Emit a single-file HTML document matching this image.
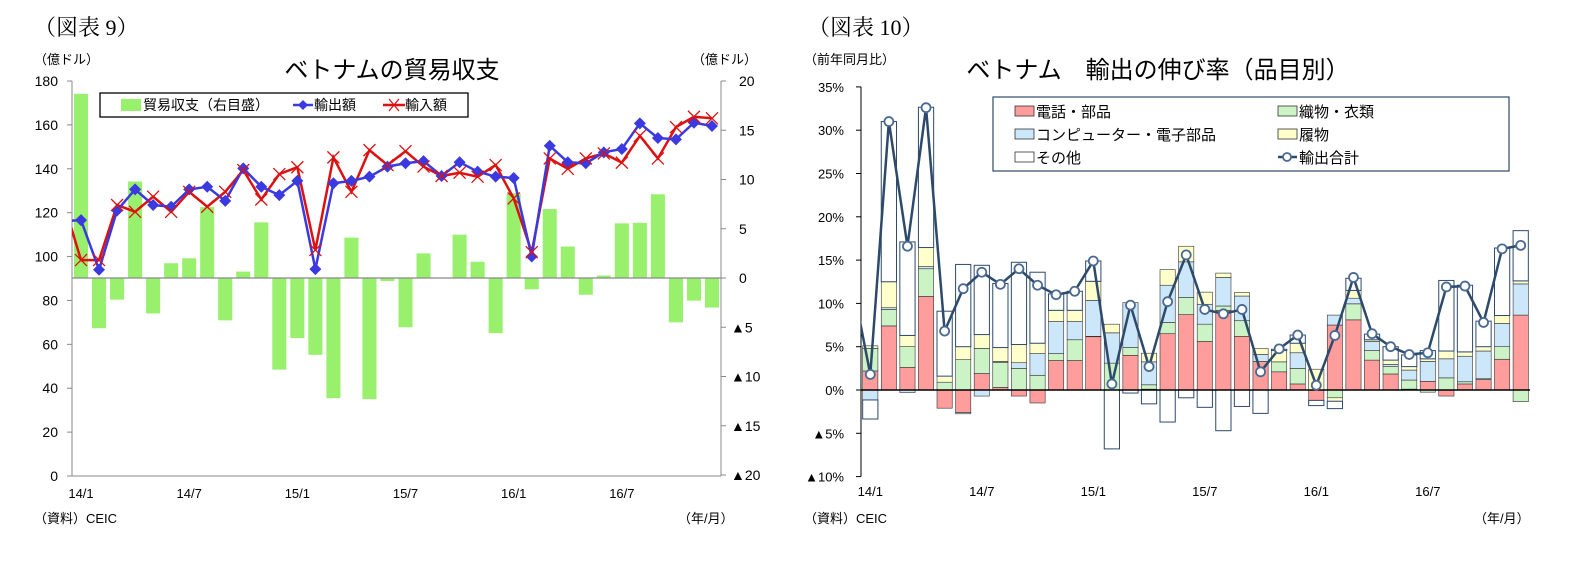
<!DOCTYPE html>
<html><head><meta charset="utf-8">
<style>
body{margin:0;background:#fff;}
svg{display:block;font-family:"Liberation Sans","Noto Sans CJK JP",sans-serif;}
.serif{font-family:"Liberation Serif","Noto Serif CJK SC",serif;}
</style></head>
<body>
<svg id="s" width="1580" height="569" viewBox="0 0 1580 569">
<defs>
<clipPath id="clipL"><rect x="72" y="60" width="649" height="430"/></clipPath>
<clipPath id="clipR"><rect x="861" y="60" width="669" height="430"/></clipPath>
</defs>
<text class="serif" x="34" y="35" font-size="22">（図表 9）</text>
<text class="serif" x="808" y="35" font-size="22">（図表 10）</text>
<text x="392" y="78" font-size="24" text-anchor="middle">ベトナムの貿易収支</text>
<text x="1158" y="78" font-size="24" text-anchor="middle">ベトナム　輸出の伸び率（品目別）</text>
<text x="34" y="64" font-size="13">（億ドル）</text>
<text x="692" y="64" font-size="13">（億ドル）</text>
<text x="804" y="64" font-size="13">（前年同月比）</text>
<text x="34" y="523" font-size="13">（資料）CEIC</text>
<text x="678" y="523" font-size="13">（年/月）</text>
<text x="804" y="523" font-size="13">（資料）CEIC</text>
<text x="1474" y="523" font-size="13">（年/月）</text>
<g id="L"></g>
<g id="R"></g>
</svg>
<script>
const NS='http://www.w3.org/2000/svg';
const months=['14/1','14/2','14/3','14/4','14/5','14/6','14/7','14/8','14/9','14/10','14/11','14/12','15/1','15/2','15/3','15/4','15/5','15/6','15/7','15/8','15/9','15/10','15/11','15/12','16/1','16/2','16/3','16/4','16/5','16/6','16/7','16/8','16/9','16/10','16/11','16/12'];
const xTickLabels=['14/1','14/7','15/1','15/7','16/1','16/7'];
const exportsV=[116.6,94,121,130.6,123.5,122.7,130.6,131.8,125.4,140.2,131.8,128,134.5,94.3,133.4,134.5,136.4,141,142.5,143.5,136.7,143,138.7,136.4,135.8,100,150.5,143,142.5,147.5,149,160.7,154,153.4,161,159.5];
const importsV=[98.4,98.4,123.5,120.4,127.3,120.4,129.5,122.7,129.5,139.4,126,137.6,140.7,103,145.2,129.5,148.5,141.7,148,141,136.7,138.2,136.4,141.7,126.5,102,144.7,140,144.7,147,142.8,155,144.7,159,163.7,163];
const balanceV=[18.7,-5.1,-2.2,9.8,-3.6,1.5,2.0,7.2,-4.3,0.65,5.65,-9.3,-6.1,-7.8,-12.2,4.1,-12.3,-0.3,-5.0,2.5,0.05,4.4,1.65,-5.6,8.6,-1.15,7.0,3.2,-1.7,0.25,5.55,5.6,8.5,-4.5,-2.3,-3.0];
const prevExport=116.2, prevImport=125.6;
const leftTicks=[0,20,40,60,80,100,120,140,160,180];
const rightTicks=[-20,-15,-10,-5,0,5,10,15,20];
// right chart
const phoneV=[2.2,7.4,2.6,10.8,-2.1,-2.6,1.9,0.3,-0.7,-1.5,3.4,3.4,6.15,0,4.0,0.1,6.5,8.7,5.6,9.2,6.2,3.3,2.1,0.7,-1.2,7.5,8.1,3.45,1.85,0.1,1.0,-0.7,0.7,1.2,3.55,8.65];
const textileV=[2.6,1.9,2.4,3.2,0.9,3.5,2.9,2.9,2.5,1.7,0.8,2.4,0.05,3.1,0.9,0.5,1.3,2.0,2.0,0.5,1.8,0,1.15,1.8,0,-0.9,1.85,1.1,0.85,1.05,-0.25,1.4,0.25,0.1,1.45,-1.35];
const computerV=[-1.15,0.2,-0.3,0.25,0,-0.15,-0.7,0.1,0.65,2.5,3.7,2.1,4.15,3.5,5.2,2.65,4.3,4.1,2.3,3.3,2.85,0.8,0,1.8,0,1.15,0.65,1.05,0.25,1.15,2.3,2.2,2.95,3.2,2.7,3.6];
const shoesV=[0.3,3.0,1.3,2.2,0.7,1.5,1.6,1.6,2.1,1.2,1.3,1.3,2.2,1.0,0,1.0,1.8,1.8,1.4,0.5,0.4,0.7,1.3,1.1,2.4,-0.4,0.9,0.2,0.5,0.4,0.3,0.9,0.5,0.5,0.9,0.35];
const otherV=[-2.2,18.5,10.8,16.2,7.5,9.5,8.0,7.4,9.5,8.2,1.9,2.2,2.35,-6.8,-0.35,-1.6,-3.7,-0.9,-2.0,-4.7,-1.9,-2.7,0.15,0.95,-0.6,-0.85,1.4,0.65,1.55,1.35,0.95,8.15,7.7,2.95,7.8,5.8];
const totalV=[1.8,31,16.6,32.6,6.8,11.7,13.6,12.2,14,12.1,11,11.4,14.9,0.7,9.8,2.7,10.2,15.6,9.3,8.8,9.3,2.1,4.75,6.35,0.55,6.3,13,6.5,5.0,4.1,4.3,11.9,12.0,7.8,16.3,16.7];
const prevTotal=12.8;
const pctTicks=[-10,-5,0,5,10,15,20,25,30,35];

function mk(tag,attrs,parent,txt){const e=document.createElementNS(NS,tag);for(const k in attrs)e.setAttribute(k,attrs[k]);if(txt!==undefined)e.textContent=txt;parent.appendChild(e);return e;}

// ---- Left chart
const L=document.getElementById('L');
const lx0=72,lx1=721,ly0=476,ly1=81;
const bw=(lx1-lx0)/months.length;
const xL=i=>lx0+(i+0.5)*bw;
const yL=v=>ly0-(v/180)*(ly0-ly1);
const yR=v=>278-(v/20)*(278-ly1);
balanceV.forEach((v,i)=>{
  const r=mk('rect',{x:xL(i)-bw*0.39,y:Math.min(yR(v),yR(0)),width:bw*0.78,height:Math.abs(yR(v)-yR(0)),fill:'#98f06c'},L);
  
  
});
mk('line',{x1:lx0,y1:278,x2:lx1,y2:278,stroke:'#888','stroke-width':1.2},L);
mk('line',{x1:lx0,y1:ly1,x2:lx0,y2:ly0,stroke:'#888'},L);
mk('line',{x1:lx0,y1:ly0,x2:lx1,y2:ly0,stroke:'#888'},L);
mk('line',{x1:lx1,y1:ly1,x2:lx1,y2:ly0,stroke:'#888'},L);
leftTicks.forEach(t=>{mk('line',{x1:lx0-5,y1:yL(t),x2:lx0,y2:yL(t),stroke:'#888'},L);
  const e=mk('text',{x:lx0-14,y:yL(t)+5,'font-size':14,'text-anchor':'end'},L,String(t));
  });
rightTicks.forEach(t=>{mk('line',{x1:lx1,y1:yR(t),x2:lx1+5,y2:yR(t),stroke:'#888'},L);
  const e=mk('text',{x:t<0?lx1+10:lx1+18,y:yR(t)+5,'font-size':14},L,t<0?'▲'+(-t):String(t));
  });
xTickLabels.forEach(lb=>{const i=months.indexOf(lb);
  const e=mk('text',{x:xL(i),y:498,'font-size':13,'text-anchor':'middle'},L,lb);
  });
function linePts(vals,prev,xf,yf){let p=[[xf(-1),yf(prev)]];vals.forEach((v,i)=>p.push([xf(i),yf(v)]));return p.map(q=>q.join(',')).join(' ');}
const gl=mk('g',{'clip-path':'url(#clipL)'},L);
const impLine=mk('polyline',{points:linePts(importsV,prevImport,xL,yL),fill:'none',stroke:'#dd1111','stroke-width':2.5},gl);

const expLine=mk('polyline',{points:linePts(exportsV,prevExport,xL,yL),fill:'none',stroke:'#3a3ae0','stroke-width':2.5},gl);

exportsV.forEach((v,i)=>{const x=xL(i),y=yL(v);
  const d=mk('polygon',{points:`${x},${y-6} ${x+6},${y} ${x},${y+6} ${x-6},${y}`,fill:'#3a3ae0'},L);
  });
importsV.forEach((v,i)=>{const x=xL(i),y=yL(v);
  const p=mk('path',{d:`M${x-6},${y-6}L${x+6},${y+6}M${x+6},${y-6}L${x-6},${y+6}`,stroke:'#dd1111','stroke-width':1.3},L);
  });
// left legend
const lg=mk('g',{},L);
mk('rect',{x:100,y:93,width:368,height:24,fill:'#fff',stroke:'#000','stroke-width':1.3},lg);
mk('rect',{x:121,y:99,width:20,height:12,fill:'#98f06c'},lg);
mk('text',{x:143,y:110,'font-size':14},lg,'貿易収支（右目盛）');
mk('line',{x1:293,y1:105,x2:313,y2:105,stroke:'#3a3ae0','stroke-width':2.5},lg);
mk('polygon',{points:'303,100 308,105 303,110 298,105',fill:'#3a3ae0'},lg);
mk('text',{x:314,y:110,'font-size':14},lg,'輸出額');
mk('line',{x1:383,y1:105,x2:405,y2:105,stroke:'#dd1111','stroke-width':2.5},lg);
mk('path',{d:'M389,99L399,111M399,99L389,111',stroke:'#dd1111','stroke-width':1.3},lg);
mk('text',{x:405,y:110,'font-size':14},lg,'輸入額');

// ---- Right chart
const R=document.getElementById('R');
const rx0=861,rx1=1530;
const rw=(rx1-rx0)/months.length;
const xR=i=>rx0+(i+0.5)*rw;
const yP=v=>390-(v/5)*43.3;
const series=[['phone',phoneV,'#ff9c9c'],['textile',textileV,'#ccf3c6'],['computer',computerV,'#cce6fa'],['shoes',shoesV,'#ffffcc'],['other',otherV,'#ffffff']];
months.forEach((m,i)=>{let pos=0,neg=0;
  series.forEach(([nm,arr,col])=>{const v=arr[i];if(!v)return;let a,b;
    if(v>0){a=pos;b=pos+v;pos=b;}else{a=neg;b=neg+v;neg=b;}
    const r=mk('rect',{x:xR(i)-rw*0.41,y:Math.min(yP(a),yP(b)),width:rw*0.82,height:Math.abs(yP(a)-yP(b)),fill:col,stroke:nm==='other'?'#2d4a6b':'#333','stroke-width':nm==='other'?1:0.6},R);
    });
});
mk('line',{x1:rx0,y1:yP(0),x2:rx1,y2:yP(0),stroke:'#000','stroke-width':1.5},R);
mk('line',{x1:rx0,y1:yP(35),x2:rx0,y2:yP(-10),stroke:'#000'},R);
pctTicks.forEach(t=>{mk('line',{x1:rx0-5,y1:yP(t),x2:rx0,y2:yP(t),stroke:'#000'},R);
  const e=mk('text',{x:rx0-17,y:yP(t)+5,'font-size':13,'text-anchor':'end'},R,t<0?'▲'+(-t)+'%':t+'%');
  });
xTickLabels.forEach(lb=>{const i=months.indexOf(lb);
  const e=mk('text',{x:xR(i),y:496,'font-size':13,'text-anchor':'middle'},R,lb);
  });
const gr=mk('g',{'clip-path':'url(#clipR)'},R);
const tl=mk('polyline',{points:linePts(totalV,prevTotal,xR,yP),fill:'none',stroke:'#2d4a6b','stroke-width':2.5},gr);

totalV.forEach((v,i)=>{const c=mk('circle',{cx:xR(i),cy:yP(v),r:4.5,fill:'#fff',stroke:'#4a6a92','stroke-width':1.8},R);
  });
// right legend
const rg=mk('g',{},R);
mk('rect',{x:993,y:97,width:516,height:74,fill:'#fff',stroke:'#2d4a6b','stroke-width':1.2},rg);
const items=[['電話・部品','#ff9c9c',1015,111],['コンピューター・電子部品','#cce6fa',1015,134],['その他','#fff',1015,157],['織物・衣類','#ccf3c6',1278,111],['履物','#ffffcc',1278,134]];
items.forEach(([t,c,x,y])=>{mk('rect',{x:x,y:y-5,width:19,height:10,fill:c,stroke:'#333','stroke-width':0.8},rg);
  mk('text',{x:x+21,y:y+6,'font-size':15},rg,t);});
mk('line',{x1:1278,y1:157,x2:1297,y2:157,stroke:'#2d4a6b','stroke-width':2.5},rg);
mk('circle',{cx:1287,cy:157,r:4,fill:'#fff',stroke:'#4a6a92','stroke-width':1.8},rg);
mk('text',{x:1299,y:163,'font-size':15},rg,'輸出合計');
</script>
</body></html>
